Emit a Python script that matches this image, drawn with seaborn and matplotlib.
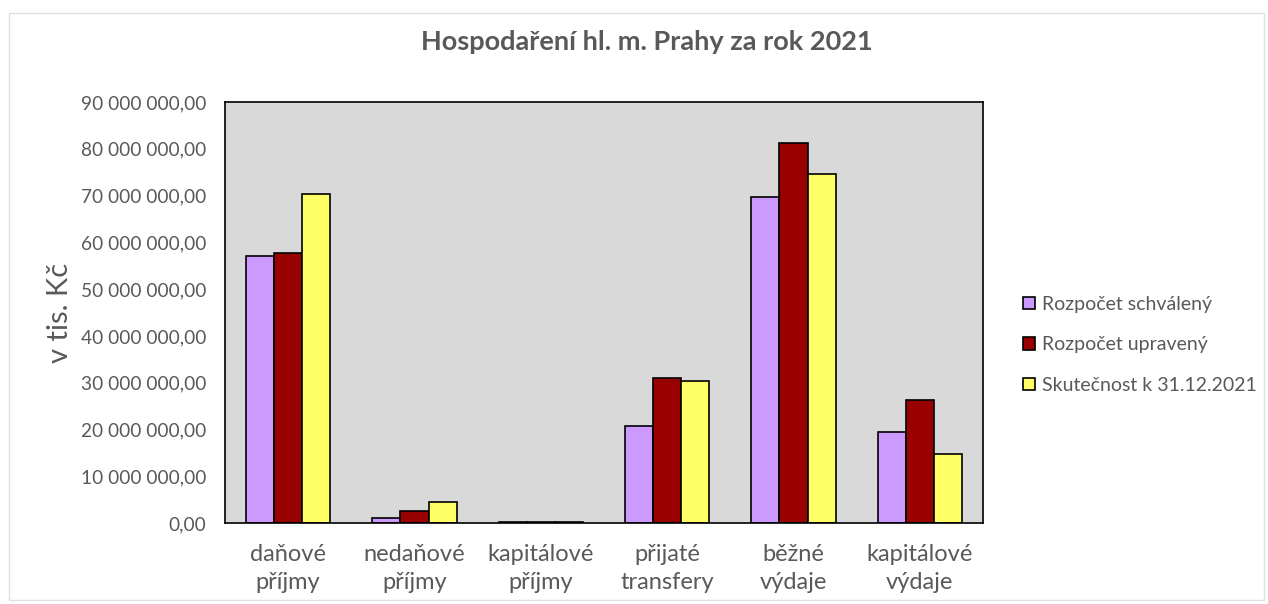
import matplotlib
matplotlib.use("Agg")
import matplotlib.pyplot as plt
import seaborn as sns
import pandas as pd
from matplotlib.ticker import FuncFormatter, MultipleLocator
from matplotlib.patches import Rectangle

categories = ["daňové\npříjmy", "nedaňové\npříjmy", "kapitálové\npříjmy",
              "přijaté\ntransfery", "běžné\nvýdaje", "kapitálové\nvýdaje"]
series_names = ["Rozpočet schválený", "Rozpočet upravený", "Skutečnost k 31.12.2021"]
schvaleny = [57100000, 1100000, 150000, 20700000, 69600000, 19400000]
upraveny = [57800000, 2500000, 180000, 31100000, 81300000, 26300000]
skutecnost = [70400000, 4400000, 120000, 30400000, 74700000, 14700000]
colors = ["#cc99ff", "#990000", "#ffff66"]

rows = []
for name, vals in zip(series_names, [schvaleny, upraveny, skutecnost]):
    for c, v in zip(categories, vals):
        rows.append({"kategorie": c, "serie": name, "hodnota": v})
df = pd.DataFrame(rows)

sns.set_style("white")
plt.rcParams['font.family'] = ['Lato', 'DejaVu Sans']
txt = "#595959"

fig = plt.figure(figsize=(12.68, 6.04), dpi=100)
ax = fig.add_axes([225/1268, 1-523/604, (983-225)/1268, (523-102)/604])
sns.barplot(data=df, x="kategorie", y="hodnota", hue="serie", palette=colors,
            width=0.67, edgecolor="black", linewidth=1.2, ax=ax, saturation=1, gap=0)

ax.set_facecolor("#d9d9d9")
ax.set_ylim(0, 90000000)
ax.yaxis.set_major_locator(MultipleLocator(10000000))
def fmt(v, pos):
    s = f"{int(round(v)):,}".replace(",", " ")
    return s + ",00"
ax.yaxis.set_major_formatter(FuncFormatter(fmt))
ax.tick_params(axis="y", labelsize=13.8, colors=txt, length=0, pad=13.5)
ax.tick_params(axis="x", labelsize=17, colors=txt, length=0, pad=15)
for lab in ax.get_xticklabels():
    lab.set_linespacing(1.45)
ax.set_xlabel("")
ax.set_ylabel("v tis. Kč", fontsize=21, color=txt)
ax.yaxis.set_label_coords((73-225)/758, 0.5)
for sp in ax.spines.values():
    sp.set_visible(True)
    sp.set_color("black")
    sp.set_linewidth(1.2)

ax.get_legend().remove()
handles = [Rectangle((0, 0), 1, 1, facecolor=c, edgecolor="black", linewidth=1.2) for c in colors]
fig.legend(handles, series_names, loc="center left", bbox_to_anchor=(1006/1268, 1-345/604),
           frameon=False, fontsize=14, labelcolor=txt, handlelength=0.6, handleheight=0.6,
           handletextpad=0.35, labelspacing=1.2)

fig.text(0.510, 1-50/604, "Hospodaření hl. m. Prahy za rok 2021", ha="center", va="baseline",
         fontsize=19.5, fontweight="bold", color=txt)

fig.patches.append(Rectangle((9/1268, 1-600/604), 1255/1268, 587/604, transform=fig.transFigure,
                             fill=False, edgecolor="#e0e0e0", linewidth=1))

fig.savefig("out.png", dpi=100)
